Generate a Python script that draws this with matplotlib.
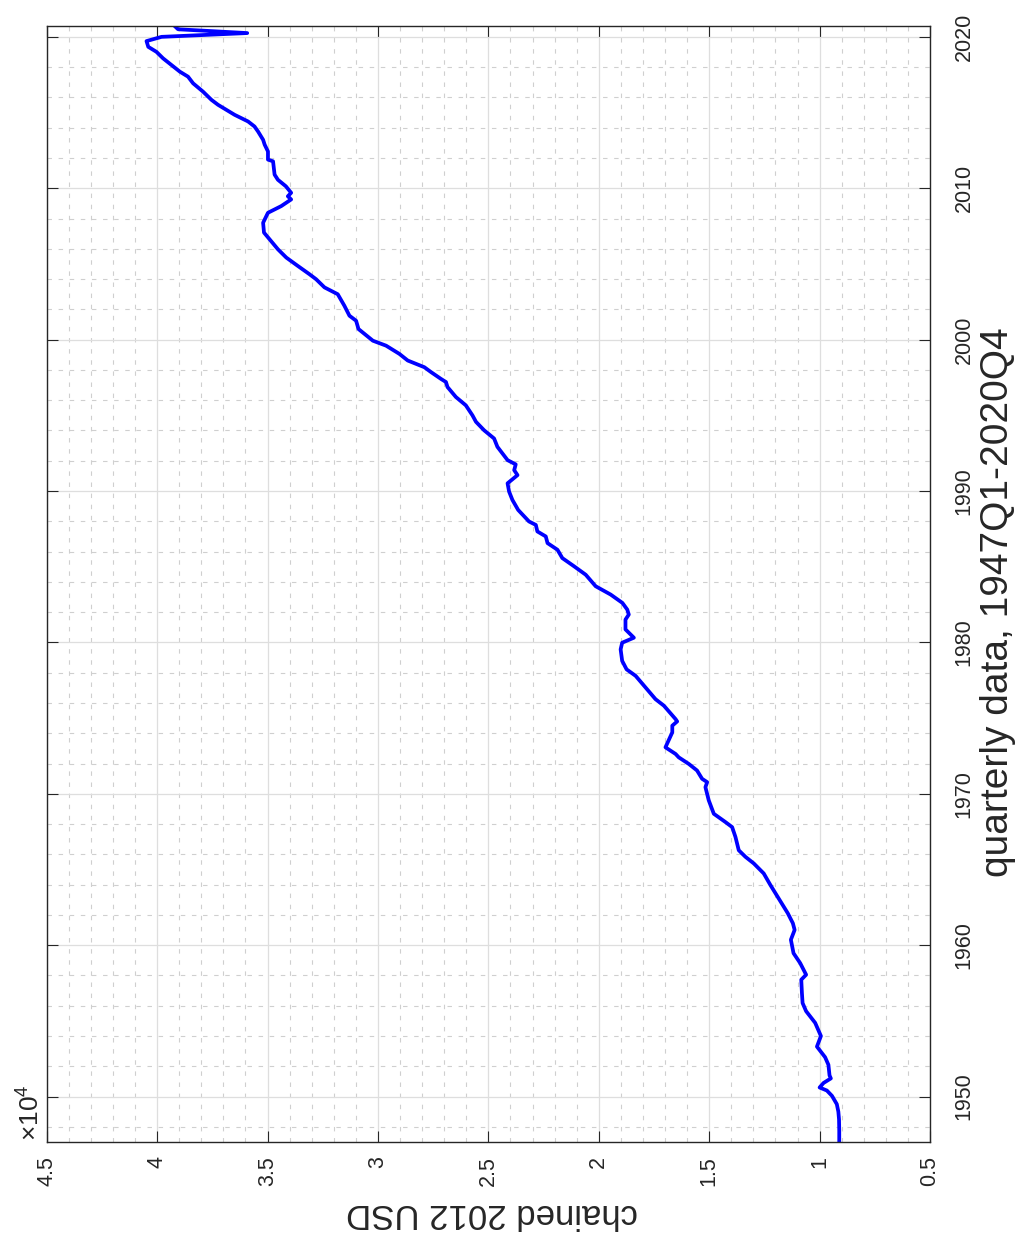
import numpy as np
import matplotlib
matplotlib.use("Agg")
import matplotlib.pyplot as plt
from matplotlib.ticker import FuncFormatter, MultipleLocator

years = [1947.0, 1947.75, 1948.5, 1949.0, 1949.5, 1950.05, 1950.4, 1950.6, 1950.9, 1951.2,
         1951.4, 1952.1, 1952.6, 1953.3, 1954.0, 1954.87, 1955.64, 1956.18, 1956.84, 1957.72,
         1958.05, 1958.82, 1959.47, 1960.36, 1961.01, 1961.45, 1962.11, 1963.2, 1963.98, 1964.74,
         1965.4, 1965.84, 1966.27, 1967.15, 1967.8, 1968.14, 1968.68, 1969.57, 1970.44, 1970.77,
         1970.99, 1971.54, 1971.97, 1972.41, 1972.63, 1973.07, 1974.06, 1974.5, 1974.78, 1974.93,
         1975.82, 1976.25, 1977.02, 1977.79, 1978.22, 1978.78, 1979.54, 1979.98, 1980.31, 1980.86,
         1981.51, 1981.84, 1982.17, 1982.61, 1983.16, 1983.71, 1984.47, 1985.03, 1985.57, 1986.12,
         1986.56, 1987.0, 1987.33, 1987.76, 1987.99, 1988.75, 1989.41, 1989.96, 1990.51, 1991.05,
         1991.38, 1991.76, 1992.04, 1992.92, 1993.47, 1994.01, 1994.57, 1995.0, 1995.66, 1996.21,
         1996.87, 1997.2, 1997.41, 1997.86, 1998.18, 1998.62, 1999.06, 1999.6, 1999.93, 2000.7,
         2001.25, 2001.58, 2002.24, 2003.0, 2003.45, 2003.99, 2004.32, 2004.87, 2005.42, 2005.97,
         2006.63, 2007.07, 2007.72, 2008.38, 2008.82, 2009.26, 2009.47, 2009.7, 2010.13, 2010.56,
         2010.9, 2011.78, 2011.89, 2012.43, 2012.88, 2013.2, 2013.75, 2014.08, 2014.41, 2014.85,
         2015.51, 2015.84, 2016.38, 2016.93, 2017.37, 2017.7, 2018.14, 2018.58, 2019.01, 2019.34,
         2019.72, 2020.0, 2020.25, 2020.5, 2020.75]
usd = [9110, 9110, 9120, 9150, 9220, 9440, 9670, 10000, 9820, 9490,
       9550, 9600, 9750, 10120, 9940, 10200, 10610, 10770, 10800, 10830,
       10610, 10880, 11180, 11300, 11130, 11210, 11440, 11900, 12230, 12530,
       12980, 13360, 13660, 13810, 13960, 14270, 14790, 15020, 15170, 15090,
       15320, 15550, 15920, 16380, 16520, 16980, 16670, 16670, 16450, 16520,
       17050, 17430, 17880, 18330, 18740, 18940, 19010, 18940, 18410, 18790,
       18790, 18640, 18710, 18930, 19460, 20140, 20590, 21120, 21650, 21870,
       22320, 22400, 22780, 22850, 23160, 23650, 23910, 24060, 24130, 23680,
       23830, 23760, 24130, 24590, 24740, 25190, 25560, 25720, 26020, 26470,
       26850, 26920, 27150, 27600, 27900, 28650, 29030, 29630, 30230, 30880,
       30990, 31290, 31520, 31820, 32420, 32800, 33100, 33630, 34150, 34530,
       34910, 35160, 35200, 34980, 34380, 33930, 34080, 33930, 34170, 34530,
       34680, 34750, 34980, 34980, 35130, 35200, 35430, 35590, 35880, 36490,
       37240, 37540, 37920, 38370, 38600, 38970, 39350, 39730, 40030, 40400,
       40480, 39800, 35920, 39050, 39230]

value_ticks = [5000, 10000, 15000, 20000, 25000, 30000, 35000, 40000, 45000]
year_ticks = [1950, 1960, 1970, 1980, 1990, 2000, 2010, 2020]

plt.rcParams['font.family'] = ['Liberation Sans', 'DejaVu Sans']
plt.rcParams['mathtext.fontset'] = 'custom'
plt.rcParams['mathtext.rm'] = 'Liberation Sans'

W, H = 1019, 1238
fig = plt.figure(figsize=(W / 100, H / 100), dpi=100)
# the whole figure is drawn turned 90 degrees: years run up, values run leftwards
x0, x1, y0, y1 = 46.7, 930, 25.5, 1142
ax = fig.add_axes([x0 / W, 1 - y1 / H, (x1 - x0) / W, (y1 - y0) / H])

ax.plot(usd, years, color='#0000ff', lw=2.7, solid_joinstyle='round')

ax.set_xlim(45000, 5000)
ax.set_ylim(1947, 2020.75)
ax.set_xticks(value_ticks)
ax.xaxis.set_major_formatter(FuncFormatter(lambda v, p: '%g' % (v / 1e4)))
ax.set_yticks(year_ticks)
ax.xaxis.set_minor_locator(MultipleLocator(1000))
ax.yaxis.set_minor_locator(MultipleLocator(2))
ax.yaxis.tick_right()

dark = '#262626'
ax.tick_params(which='major', direction='in', length=8, width=0.8, color=dark,
               top=True, bottom=True, left=True, right=True,
               labelsize=15.5, labelcolor=dark)
ax.tick_params(axis='x', pad=10, labelrotation=90)
ax.tick_params(axis='y', pad=17, labelrotation=90)
ax.tick_params(which='minor', length=0)
plt.setp(ax.get_yticklabels(), va='center')

ax.set_axisbelow(True)
ax.grid(which='major', color='#dedede', lw=0.9, ls='-')
ax.grid(which='minor', color='#cfcfcf', lw=0.8, ls=(0, (4, 6)))
for s in ax.spines.values():
    s.set_color(dark)
    s.set_linewidth(1.0)

fig.text(492 / W, 1 - 1213 / H, 'chained 2012 USD', rotation=180,
         ha='center', va='center', fontsize=25, color=dark)
fig.text(998 / W, 1 - 602 / H, 'quarterly data, 1947Q1-2020Q4', rotation=90,
         ha='center', va='center', fontsize=28, color=dark)
fig.text(31 / W, 1 - 1113 / H, r'$\mathregular{\times10^{4}}$', rotation=90,
         ha='center', va='center', fontsize=19, color=dark)

fig.savefig('out.png', dpi=100)
